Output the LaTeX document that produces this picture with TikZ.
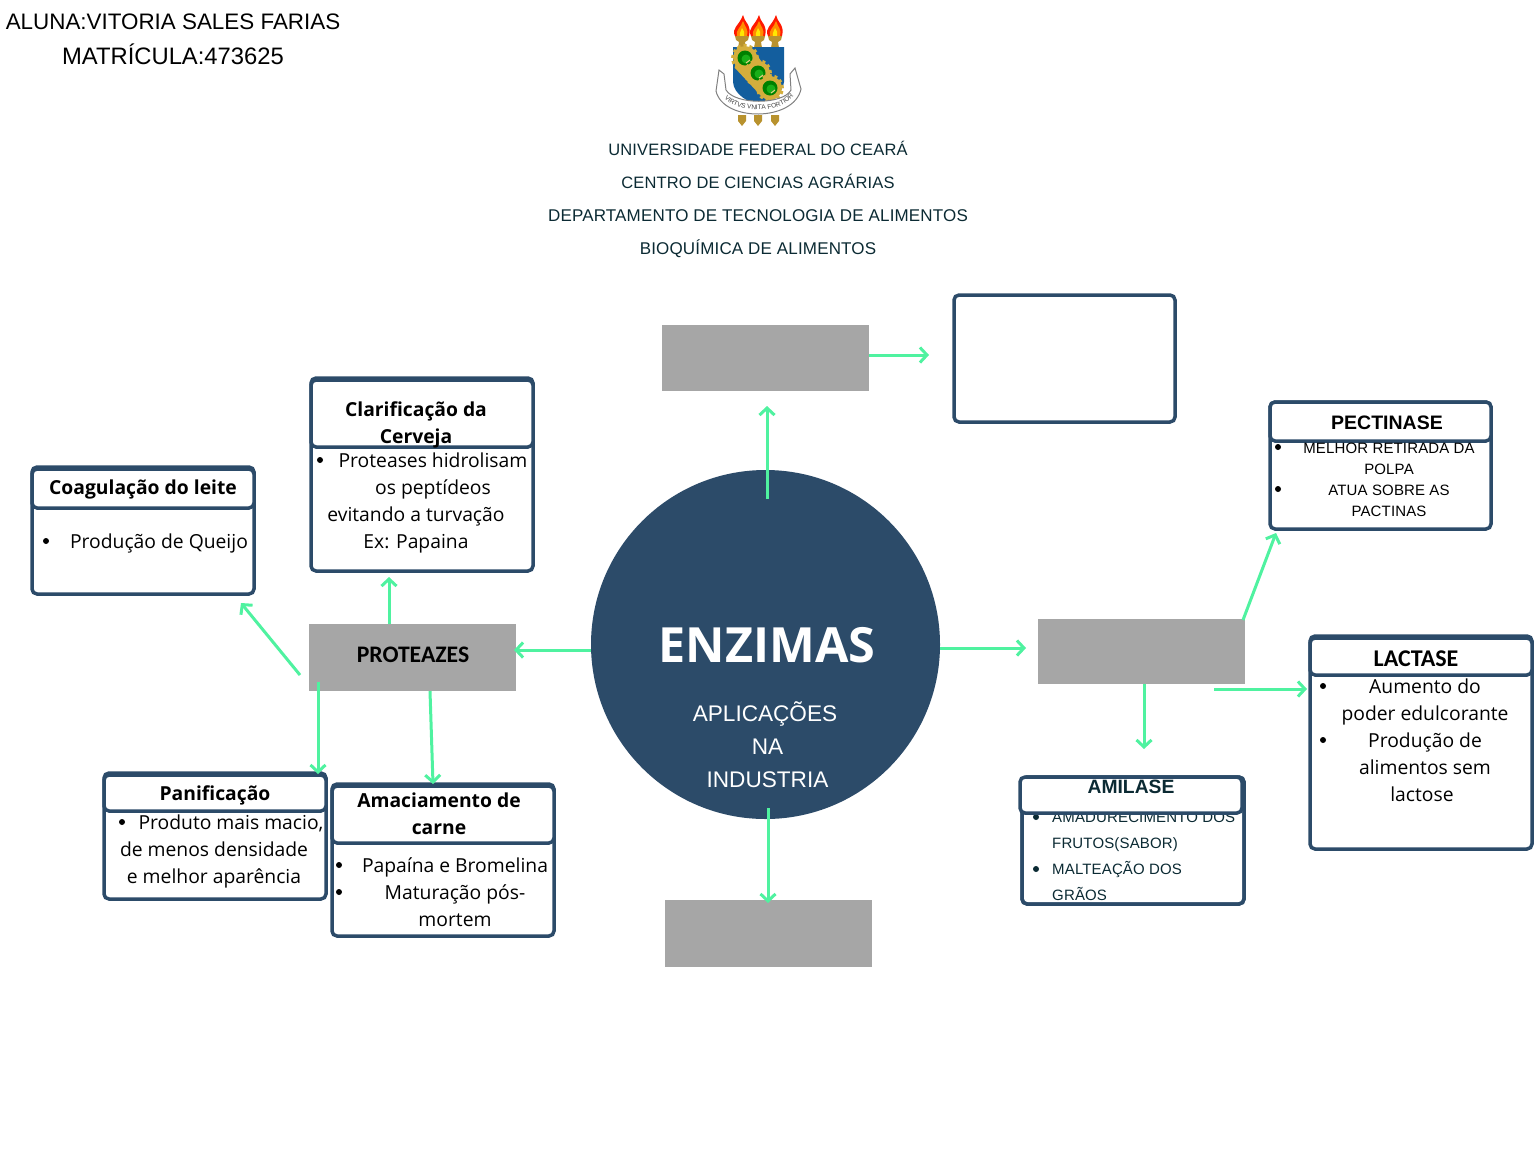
\documentclass[tikz,border=0pt]{standalone}
\usepackage{fontspec}
\setmainfont{Open Sans}
\newfontfamily\lib{Liberation Sans}
\newfontfamily\libs[LetterSpace=1]{Liberation Sans}
\newfontfamily\carl{Carlito}
\usetikzlibrary{arrows.meta,decorations.text}
\definecolor{navy}{HTML}{2C4B69}
\definecolor{mint}{HTML}{4FF2A0}
\definecolor{greybox}{HTML}{A6A6A6}
\definecolor{ink}{HTML}{0B2A33}
\definecolor{gold}{HTML}{D4AE3C}
\definecolor{torch}{HTML}{B8922E}
\definecolor{shieldblue}{HTML}{135E9E}
\newcommand{\fs}[2]{\fontsize{#1}{#2}\selectfont}
\tikzset{
 x=1pt,y=-1pt,
 arr/.style={draw=mint,line width=3pt,-{Straight Barb[length=7pt,width=15pt,line width=3pt]}},
 panel/.style={draw=navy,fill=white,line width=3.5pt,rounded corners=5pt,anchor=north west,inner sep=0pt,outer sep=0pt},
 grey/.style={fill=greybox,anchor=north west,inner sep=0pt,outer sep=0pt,minimum width=207pt},
 body/.style={font=\fs{19.3}{27},align=center,inner sep=0pt,text=black},
 head/.style={font=\bfseries\fs{19.3}{27},align=center,inner sep=0pt,text=black},
 caps/.style={font=\libs\fs{15}{21},align=center,inner sep=0pt,text=black},
 ambody/.style={font=\libs\fs{15}{26},align=left,inner sep=0pt,text=ink,anchor=north west},
 uni/.style={font=\libs\fs{17}{18},inner sep=0pt,text=ink},
 unis/.style={font=\libs\fs{16.5}{18},inner sep=0pt,text=ink},
 dotm/.style={circle,fill=black,inner sep=0pt,minimum size=6pt},
}
\begin{document}
\begin{tikzpicture}
\useasboundingbox (0,0) rectangle (1536,1152);
% header text
\node[font=\lib\fs{22.4}{33},inner sep=0pt] (aluna) at (173,22) {ALUNA:VITORIA SALES FARIAS};
\node[font=\lib\fs{23.8}{33},inner sep=0pt] (matr) at (173,54) {MATRÍCULA:473625};
\node[unis] (u1) at (758,148.5) {UNIVERSIDADE FEDERAL DO CEARÁ};
\node[unis] (u2) at (758,181.5) {CENTRO DE CIENCIAS AGRÁRIAS};
\node[uni] (u3) at (758,215.5) {DEPARTAMENTO DE TECNOLOGIA DE ALIMENTOS};
\node[uni] (u4) at (758,248.5) {BIOQUÍMICA DE ALIMENTOS};
% crest
\foreach \tx in {742,758,775}{
 \fill[red!80!orange] (\tx-7,36) .. controls (\tx-11,28) and (\tx-3,26) .. (\tx+1,15) .. controls (\tx+2,22) and (\tx+10,25) .. (\tx+7,36) -- cycle;
 \fill[orange!90!yellow] (\tx-5,36) .. controls (\tx-7,30) and (\tx-1,28) .. (\tx+1,21) .. controls (\tx+3,27) and (\tx+7,30) .. (\tx+5,36) -- cycle;
 \fill[yellow!90!orange] (\tx-2,36) .. controls (\tx-3,32) and (\tx,30) .. (\tx,28) .. controls (\tx+2,31) and (\tx+3,33) .. (\tx+2,36) -- cycle;
 \fill[torch] (\tx-7,36) -- (\tx+7,36) -- (\tx+6,40) -- (\tx+3,42) -- (\tx+4,48) -- (\tx-4,48) -- (\tx-3,42) -- (\tx-6,40) -- cycle;
 \fill[torch] (\tx-4,115) -- (\tx+4,115) -- (\tx+4,121) -- (\tx,126) -- (\tx-4,121) -- cycle;
}
\fill[shieldblue] (733,47) -- (784,47) -- (784,82) .. controls (783,95) and (768,101) .. (758,106) .. controls (748,101) and (734,95) .. (733,82) -- cycle;
\fill[gold] (737,47) -- (751,47) -- (779,86) -- (778,98) -- (762,97) -- (735,68) -- cycle;
\foreach \gx/\gy in {745/58,758/73,770/88}{
 \draw[gold,line width=3pt,dash pattern=on 3pt off 3pt] (\gx,\gy) circle (12.5pt);
 \fill[gold] (\gx,\gy) circle (12pt);
 \fill[green!50!black] (\gx,\gy) circle (7.5pt);
 \fill[green!65!black!90!white] (\gx+1,\gy+1) circle (4.5pt);
 \draw[gold!60!white,line width=1pt] (\gx+1,\gy+5) -- (\gx+5,\gy+2);
}
\draw[gray,fill=white,line width=1pt] (724,74) -- (719,70) -- (716,91) .. controls (723,122) and (794,122) .. (801,89) -- (795,68) -- (790,74) -- (791,90) .. controls (783,105) and (735,105) .. (726,90) -- cycle;
\path[decorate,decoration={text along path,text align=center,text={|\lib\fs{6.5}{7}\color{black!75}|VIRTVS VNITA FORTIOR}}] (724,98) .. controls (738,114) and (780,114) .. (794,96);
% centre
\node[circle,fill=navy,minimum size=349pt,inner sep=0pt,outer sep=0pt] (circ) at (765.5,644.5) {};
\node[font=\bfseries\fs{48.5}{48},text=white,inner sep=0pt] (enz) at (767,645) {ENZIMAS};
\node[font=\lib\fs{22.6}{33},text=white,inner sep=0pt] (apl) at (765,714) {APLICAÇÕES};
\node[font=\lib\fs{22.6}{33},text=white,align=center,inner sep=0pt] (apl2) at (767.5,763.5) {NA\\INDUSTRIA};
% grey blocks
\node[grey,minimum height=66pt] (top) at (662,325) {};
\node[grey,minimum height=67pt] (prot) at (309,624) {};
\node[font=\carl\bfseries\fs{23.7}{22},inner sep=0pt] (protl) at (413,655) {PROTEAZES};
\node[grey,minimum height=65pt] (rgt) at (1038,619) {};
\node[grey,minimum height=67pt] (bot) at (665,900) {};
\node[panel,minimum width=221pt,minimum height=127pt] (blank) at (954,295) {};
% Coagulacao
\node[panel,minimum width=222pt,minimum height=127pt] (coag) at (32,467) {};
\node[panel,minimum width=222pt,minimum height=39pt] (coagh) at (32,469) {};
\node[head] (coagt) at (143,489) {Coagulação do leite};
\node[dotm] (coagd) at (46,541) {};
\node[body] (coagb) at (159,543) {Produção de Queijo};
% Clarificacao
\node[panel,minimum width=222pt,minimum height=193pt] (clar) at (311,378) {};
\node[panel,minimum width=222pt,minimum height=67pt] (clarh) at (311,380) {};
\node[head] (clart) at (416,424.5) {Clarificação da\\Cerveja};
\node[dotm] (clard) at (320,460) {};
\node[body] (clarb1) at (433,475.5) {Proteases hidrolisam\\os peptídeos};
\node[body] (clarb2) at (416,529.5) {evitando a turvação\\Ex: Papaina};
% Panificacao
\node[panel,minimum width=222pt,minimum height=126pt] (pan) at (104,773) {};
\node[panel,minimum width=222pt,minimum height=36pt] (panh) at (104,775) {};
\node[head] (pant) at (215,795) {Panificação};
\node[dotm] (pand) at (122,822) {};
\node[body] (panb1) at (231,823.5) {Produto mais macio,};
\node[body] (panb2) at (214,864.5) {de menos densidade\\e melhor aparência};
% Amaciamento
\node[panel,minimum width=222pt,minimum height=152pt] (ama) at (332,784) {};
\node[panel,minimum width=222pt,minimum height=57pt] (amah) at (332,786) {};
\node[head] (amat) at (439,814) {Amaciamento de\\carne};
\node[dotm] (amad1) at (339,865) {};
\node[dotm] (amad2) at (339,892) {};
\node[body] (amab) at (455,892.5) {Papaína e Bromelina\\Maturação pós-\\mortem};
% Pectinase
\node[panel,minimum width=221pt,minimum height=127pt] (pec) at (1270,402) {};
\node[panel,minimum width=221pt,minimum height=39pt] (pech) at (1270,402) {};
\node[font=\lib\bfseries\fs{19.5}{20},inner sep=0pt] (pect) at (1387,423) {PECTINASE};
\node[dotm] (pecd1) at (1278,447) {};
\node[dotm] (pecd2) at (1278,489) {};
\node[caps] (pecb) at (1389,479.5) {MELHOR RETIRADA DA\\POLPA\\ATUA SOBRE AS\\PACTINAS};
% Lactase
\node[panel,minimum width=222pt,minimum height=213pt] (lac) at (1310,636) {};
\node[panel,minimum width=222pt,minimum height=37pt] (lach) at (1310,638) {};
\node[font=\carl\bfseries\fs{24}{22},inner sep=0pt] (lact) at (1416,659) {LACTASE};
\node[dotm] (lacd1) at (1323,686) {};
\node[dotm] (lacd2) at (1323,740) {};
\node[body] (lacb) at (1425,727) {Aumento do\\poder edulcorante\\Produção de\\alimentos sem};
\node[body] (lacb2) at (1422,794.5) {lactose};
% Amilase
\node[panel,minimum width=222pt,minimum height=127pt] (ami) at (1022,777) {};
\node[ambody] (amib) at (1052,812) {AMADURECIMENTO DOS\\FRUTOS(SABOR)\\MALTEAÇÃO DOS\\GRÃOS};
\node[dotm,fill=ink] (amid1) at (1036,817) {};
\node[dotm,fill=ink] (amid2) at (1036,869) {};
\node[panel,fill=none,minimum width=222pt,minimum height=127pt] (amio) at (1022,777) {};
\node[panel,minimum width=222pt,minimum height=36pt] (amih) at (1020,777) {};
\node[font=\lib\bfseries\fs{19.3}{20},text=ink,inner sep=0pt] (amit) at (1131,787) {AMILASE};
% free ends of connectors
\coordinate (tipTop) at (767,406);
\coordinate (tipBot) at (768,903);
\coordinate (tipRgt) at (1026,648);
\coordinate (tipBlank) at (929,355);
\coordinate (tipClar) at (389,577);
\coordinate (tipCoag) at (241,603);
\coordinate (tipPan) at (318,774);
\coordinate (tipAma) at (433,784);
\coordinate (tipPec) at (1276,533);
\coordinate (tipAmi) at (1144,749);
\coordinate (tipLac) at (1307,689);
% connectors
\draw[arr] ([xshift=1.5pt,yshift=-29pt]circ.north) -- (tipTop);
\draw[arr] ([xshift=2.5pt,yshift=11pt]circ.south) -- (tipBot);
\draw[arr] (circ.east |- tipRgt) -- (tipRgt);
\draw[arr] ([yshift=-5.5pt]circ.west) -- ([xshift=-2pt,yshift=7.5pt]prot.east);
\draw[arr] ([yshift=3pt]top.east) -- (tipBlank);
\draw[arr] ([xshift=80pt]prot.north west) -- (tipClar);
\draw[arr] ([xshift=-9pt,yshift=-51pt]prot.north west) -- (tipCoag);
\draw[arr] ([xshift=9pt,yshift=9pt]prot.south west) -- (tipPan);
\draw[arr] ([xshift=121pt]prot.south west) -- (tipAma);
\draw[arr] ([xshift=-2pt,yshift=-1pt]rgt.north east) -- (tipPec);
\draw[arr] ([xshift=106pt]rgt.south west) -- (tipAmi);
\draw[arr] ([xshift=176pt,yshift=-5pt]rgt.south west) -- (tipLac);
\end{tikzpicture}
\end{document}
